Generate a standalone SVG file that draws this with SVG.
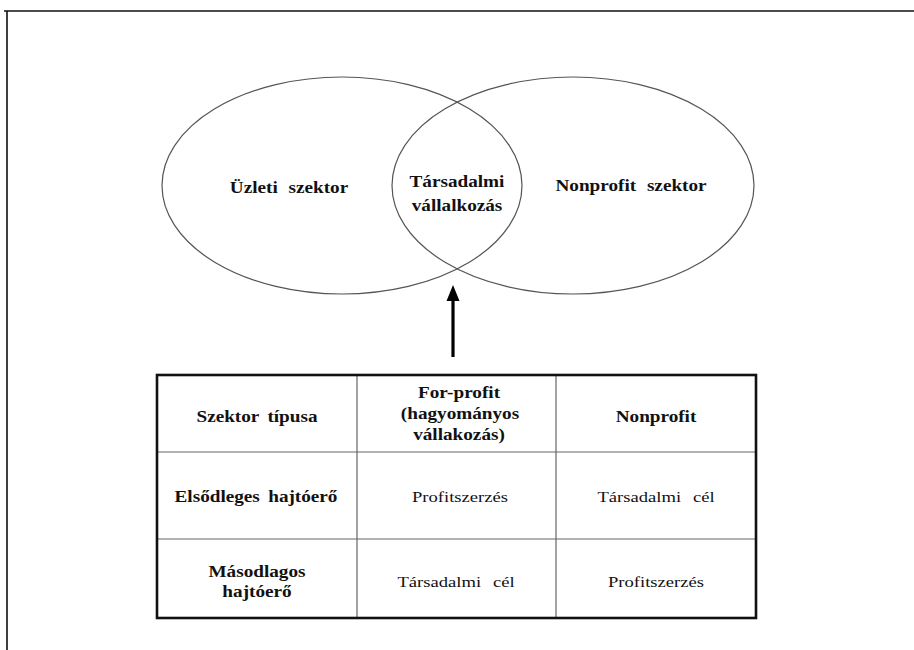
<svg xmlns="http://www.w3.org/2000/svg" width="914" height="650" viewBox="0 0 914 650">
<style>
text{font-family:'Liberation Serif','Times New Roman','DejaVu Serif',serif;fill:#111;text-anchor:middle}
.b{font-weight:bold;font-size:16px;word-spacing:5px}
.t{font-weight:bold;font-size:16px;word-spacing:3px}
.n{font-size:15.5px;word-spacing:6px}
.ell{fill:none;stroke:#555;stroke-width:1.2}
.grid{stroke:#666;stroke-width:1.2}
</style>
<rect width="914" height="650" fill="#fff"/>
<path d="M4,11 H914 M7,11 V650" stroke="#111" stroke-width="1.6" fill="none"/>
<g id="uzleti">
<ellipse class="ell" cx="342" cy="185.5" rx="180" ry="108.5"/>
<text class="b" transform="translate(289 193) scale(1.2 1)">Üzleti szektor</text>
</g>
<g id="nonprofit">
<ellipse class="ell" cx="573" cy="185.5" rx="181" ry="108.5"/>
<text class="b" transform="translate(631 191) scale(1.2 1)">Nonprofit szektor</text>
</g>
<g id="tarsadalmi">
<text class="b" transform="translate(457 187) scale(1.2 1)">Társadalmi</text>
<text class="b" transform="translate(457 211) scale(1.2 1)">vállalkozás</text>
</g>
<g id="connectors">
<line x1="453" y1="357" x2="453" y2="299" stroke="#000" stroke-width="3.2"/>
<path d="M446.5,301 L453,285 L459.5,301 Z" fill="#000"/>
</g>
<g id="table">
<line class="grid" x1="357" y1="375" x2="357" y2="618"/>
<line class="grid" x1="556" y1="375" x2="556" y2="618"/>
<line class="grid" x1="157" y1="452" x2="756" y2="452"/>
<line class="grid" x1="157" y1="539" x2="756" y2="539"/>
<rect x="157" y="375" width="599" height="243" fill="none" stroke="#111" stroke-width="2.6"/>
<text class="t" transform="translate(257 422) scale(1.2 1)">Szektor típusa</text>
<text class="t" transform="translate(459 398) scale(1.2 1)">For-profit</text>
<text class="t" transform="translate(460 419) scale(1.2 1)">(hagyományos</text>
<text class="t" transform="translate(459 440) scale(1.2 1)">vállakozás)</text>
<text class="t" transform="translate(656 422) scale(1.2 1)">Nonprofit</text>
<text class="t" transform="translate(256 502) scale(1.2 1)">Elsődleges hajtóerő</text>
<text class="n" transform="translate(460 502) scale(1.2 1)">Profitszerzés</text>
<text class="n" transform="translate(656 502) scale(1.2 1)">Társadalmi cél</text>
<text class="t" transform="translate(257 577) scale(1.2 1)">Másodlagos</text>
<text class="t" transform="translate(257 597) scale(1.2 1)">hajtóerő</text>
<text class="n" transform="translate(456 587) scale(1.2 1)">Társadalmi cél</text>
<text class="n" transform="translate(656 587) scale(1.2 1)">Profitszerzés</text>
</g>
</svg>
